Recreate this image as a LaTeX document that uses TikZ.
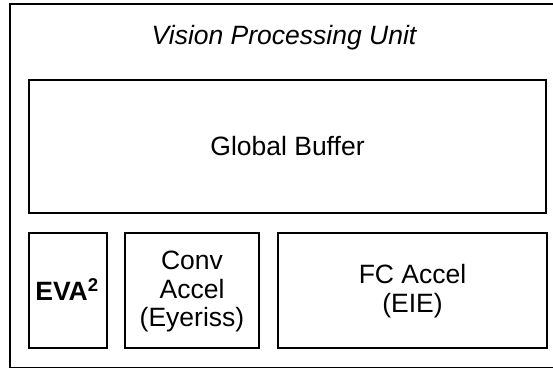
\documentclass[tikz,border=0pt]{standalone}
\usepackage{fontspec}
\setmainfont{Liberation Sans}
\begin{document}
\begin{tikzpicture}[x=1pt,y=1pt,
  blk/.style={draw=black, line width=1.3pt, fill=white, inner sep=0pt},
  lbl/.style={font=\fontsize{26.5}{28.5}\selectfont, align=center, inner sep=0pt}]
\useasboundingbox (0,0) rectangle (553,367);
\begin{scope}
\clip (0,0) rectangle (553,367);
\draw[line width=1.3pt] (10,-0.4) rectangle (620,363);
\end{scope}
\draw[blk] (29,154) rectangle (546,287);
\draw[blk] (29,19) rectangle (107,134);
\draw[blk] (125,19) rectangle (259,134);
\draw[blk] (278,19) rectangle (547,134);
\node[lbl, font=\fontsize{26.5}{28.5}\selectfont\itshape] (title) at (284,329) {Vision Processing Unit};
\node[lbl] (gb) at (287.5,220.5) {Global Buffer};
\node[lbl, font=\fontsize{26.5}{28.5}\selectfont\bfseries] (eva) at (67,77) {EVA$^{\mathbf{2}}$};
\node[lbl] (conv) at (192,75.5) {Conv\\Accel\\(Eyeriss)};
\node[lbl] (fc) at (412.5,76) {FC Accel\\(EIE)};
\end{tikzpicture}
\end{document}
